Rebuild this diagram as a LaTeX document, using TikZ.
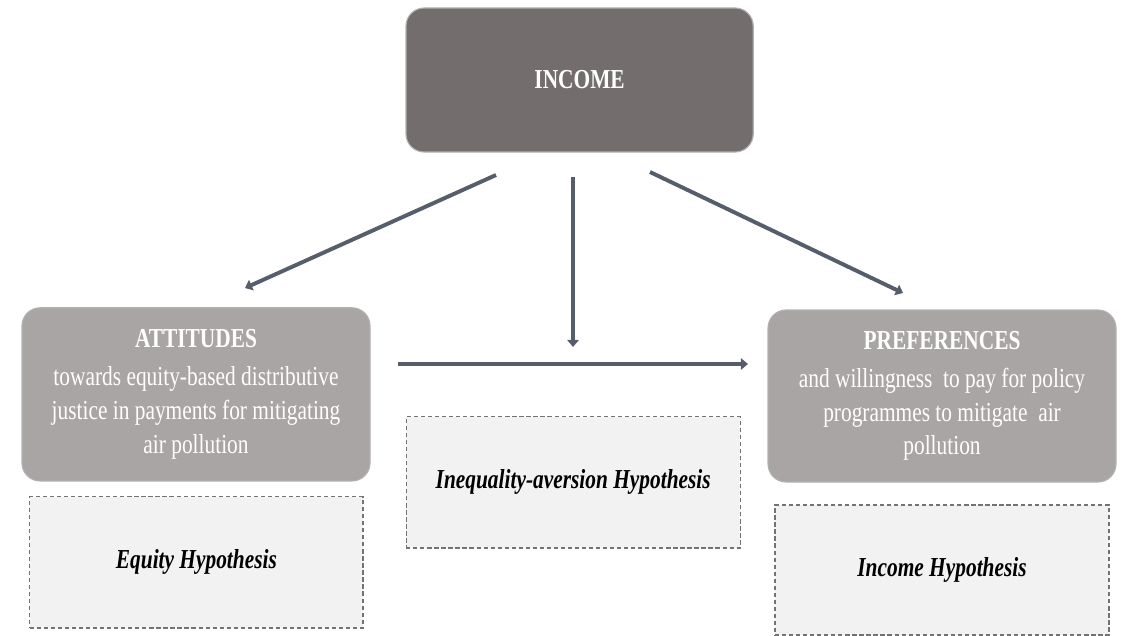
\documentclass[tikz,border=0pt]{standalone}
\usepackage{fontspec}
\setmainfont{Liberation Serif}[FakeStretch=0.78]
\usetikzlibrary{arrows.meta}
\definecolor{incomegray}{HTML}{736E6D}
\definecolor{boxgray}{HTML}{A9A5A4}
\definecolor{hypfill}{HTML}{F2F2F2}
\definecolor{arrowgray}{HTML}{565D6B}
\begin{document}
\begin{tikzpicture}[
    mainbox/.style={rectangle, rounded corners=0.45cm, draw=black!30, line width=0.8pt,
      text=white, align=center, font=\fontsize{19.5}{24}\selectfont},
    hypbox/.style={rectangle, draw=black!55, dashed, dash pattern=on 3pt off 2pt,
      line width=0.8pt, fill=hypfill, minimum width=8.35cm, minimum height=3.28cm,
      font=\fontsize{19.5}{23}\selectfont\bfseries\itshape},
    link/.style={draw=arrowgray, line width=2.8pt, -{Triangle[length=5pt,width=8pt]}}]
    \useasboundingbox (0,0) rectangle (28.125,-15.875);
    \node[mainbox, fill=incomegray, minimum width=8.68cm, minimum height=3.6cm] (income) at (14.49,-2.0) {\textbf{INCOME}};
    \node[mainbox, fill=boxgray, minimum width=8.7cm, minimum height=4.33cm] (attitudes) at (4.9,-9.86)
      {\textbf{ATTITUDES}\\[3pt] towards equity-based distributive\\ justice in payments for mitigating\\ air pollution};
    \node[mainbox, fill=boxgray, minimum width=8.7cm, minimum height=4.3cm] (preferences) at (23.55,-9.9)
      {\textbf{PREFERENCES}\\[3pt] and willingness\ \ to pay for policy\\ programmes to mitigate\ \ air\\ pollution};
    \node[hypbox, minimum width=8.33cm] (equity) at (4.91,-14.06) {Equity Hypothesis};
    \node[hypbox] (inequality) at (14.33,-12.06) {Inequality-aversion Hypothesis};
    \node[hypbox, minimum height=3.25cm] (incomehyp) at (23.55,-14.25) {Income Hypothesis};
    % arrow ends
    \coordinate (leftstart) at (12.4,-4.375);
    \coordinate (leftend) at (6.125,-7.2);
    \coordinate (midstart) at (14.325,-4.425);
    \coordinate (midend) at (14.325,-8.675);
    \coordinate (rightstart) at (16.25,-4.3);
    \coordinate (rightend) at (22.575,-7.325);
    \coordinate (flowstart) at (9.95,-9.1);
    \coordinate (flowend) at (18.7,-9.1);
    \draw[link] (leftstart) -- (leftend);
    \draw[link] (midstart) -- (midend);
    \draw[link] (rightstart) -- (rightend);
    \draw[link] (flowstart) -- (flowend);
\end{tikzpicture}
\end{document}
